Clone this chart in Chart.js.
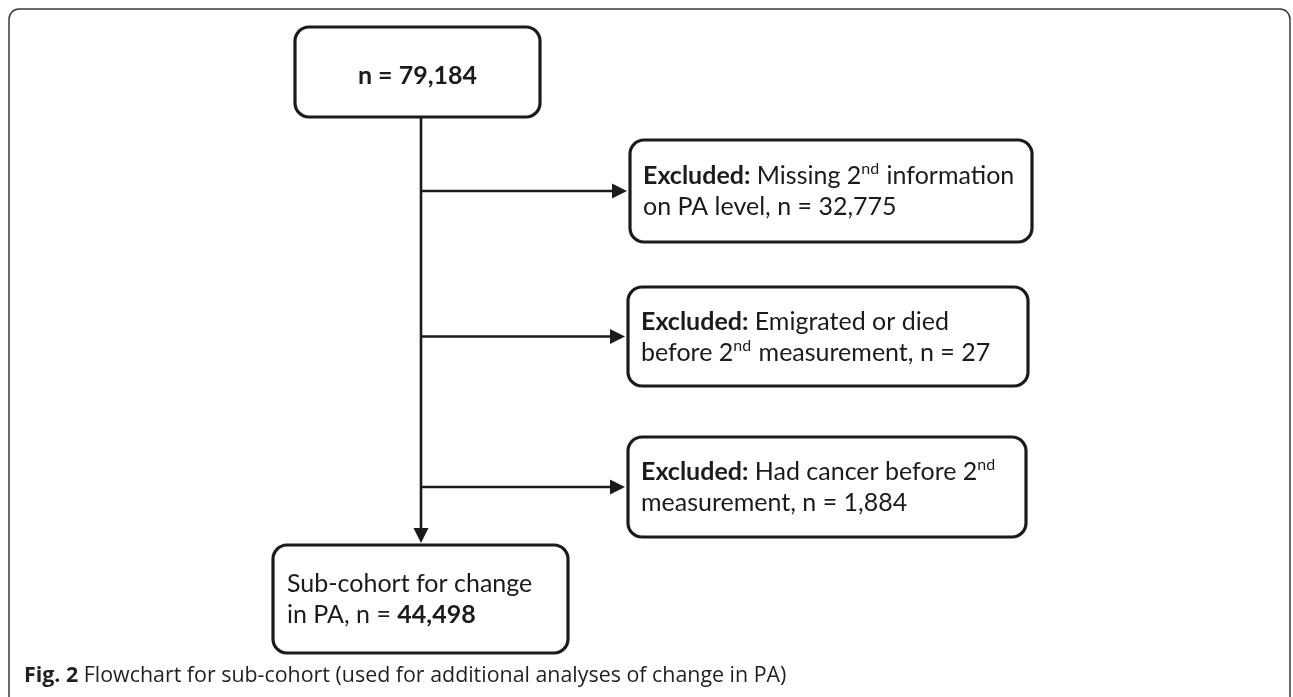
<!DOCTYPE html>
<html>
<head>
<meta charset="utf-8">
<title>Flowchart sub-cohort</title>
<script src="https://cdn.jsdelivr.net/npm/chart.js@4/dist/chart.umd.min.js"></script>
<style>
  html, body { margin: 0; padding: 0; background: #ffffff; }
  #grafico { display: block; }
</style>
</head>
<body>
<canvas id="grafico" width="1293" height="697"></canvas>
<script>
// dados do fluxograma
var startCount = '79,184';
var exclusionTags = ['Excluded:', 'Excluded:', 'Excluded:'];
var exclusionCounts = ['32,775', '27', '1,884'];
var finalCount = '44,498';
var captionLabel = 'Fig. 2';
var captionText = ' Flowchart for sub-cohort (used for additional analyses of change in PA)';

// texto de cada caixa, em pedacos (b = negrito, s = sobrescrito)
var topLines = [[{ t: 'n = ' + startCount, b: true }]];
var exclusionLines = [
  [
    [{ t: exclusionTags[0], b: true }, { t: ' Missing 2' }, { t: 'nd', s: true }, { t: ' information' }],
    [{ t: 'on PA level, n = ' + exclusionCounts[0] }]
  ],
  [
    [{ t: exclusionTags[1], b: true }, { t: ' Emigrated or died' }],
    [{ t: 'before 2' }, { t: 'nd', s: true }, { t: ' measurement, n = ' + exclusionCounts[1] }]
  ],
  [
    [{ t: exclusionTags[2], b: true }, { t: ' Had cancer before 2' }, { t: 'nd', s: true }],
    [{ t: 'measurement, n = ' + exclusionCounts[2] }]
  ]
];
var finalLines = [
  [{ t: 'Sub-cohort for change' }],
  [{ t: 'in PA, n = ' }, { t: finalCount, b: true }]
];

// posicoes das caixas (em unidades da escala, igual a pixels)
var layout = {
  top: { x: 295, y: 27, w: 245, h: 90 },
  excl: [
    { x: 630, y: 140, w: 402, h: 102 },
    { x: 628, y: 287, w: 400, h: 99 },
    { x: 628, y: 437, w: 398, h: 100 }
  ],
  fim: { x: 273, y: 545, w: 295, h: 108 },
  troncoX: 421
};

var INK = '#1b1b1b';
var FONTE = 'Lato, "Open Sans", sans-serif';
var TAM = 25;

function caixa(ctx, x, y, w, h, r) {
  ctx.beginPath();
  ctx.moveTo(x + r, y);
  ctx.lineTo(x + w - r, y);
  ctx.arcTo(x + w, y, x + w, y + r, r);
  ctx.lineTo(x + w, y + h - r);
  ctx.arcTo(x + w, y + h, x + w - r, y + h, r);
  ctx.lineTo(x + r, y + h);
  ctx.arcTo(x, y + h, x, y + h - r, r);
  ctx.lineTo(x, y + r);
  ctx.arcTo(x, y, x + r, y, r);
  ctx.closePath();
  ctx.lineWidth = 3.2;
  ctx.strokeStyle = INK;
  ctx.stroke();
}

function fontePedaco(p) {
  var tam = p.s ? Math.round(TAM * 0.64) : TAM;
  return (p.b ? 'bold ' : '') + tam + 'px ' + FONTE;
}

function larguraLinha(ctx, linha) {
  var w = 0;
  for (var i = 0; i < linha.length; i++) {
    ctx.font = fontePedaco(linha[i]);
    w += ctx.measureText(linha[i].t).width;
  }
  return w;
}

function escreveLinha(ctx, linha, x, base) {
  for (var i = 0; i < linha.length; i++) {
    var p = linha[i];
    ctx.font = fontePedaco(p);
    ctx.fillText(p.t, x, p.s ? base - 10 : base);
    x += ctx.measureText(p.t).width + (p.s ? 1 : 0);
  }
}

function seta(ctx, x1, y1, x2, y2) {
  var ang = Math.atan2(y2 - y1, x2 - x1);
  var L = 15, W = 7.5;
  ctx.beginPath();
  ctx.moveTo(x1, y1);
  ctx.lineTo(x2 - L * Math.cos(ang), y2 - L * Math.sin(ang));
  ctx.lineWidth = 2.6;
  ctx.strokeStyle = INK;
  ctx.stroke();
  ctx.beginPath();
  ctx.moveTo(x2, y2);
  ctx.lineTo(x2 - L * Math.cos(ang) - W * Math.sin(ang), y2 - L * Math.sin(ang) + W * Math.cos(ang));
  ctx.lineTo(x2 - L * Math.cos(ang) + W * Math.sin(ang), y2 - L * Math.sin(ang) - W * Math.cos(ang));
  ctx.closePath();
  ctx.fillStyle = INK;
  ctx.fill();
}

var fluxoPlugin = {
  id: 'fluxo',
  afterDraw: function (chart) {
    var ctx = chart.ctx;
    var sx = chart.scales.x, sy = chart.scales.y;
    function px(v) { return sx.getPixelForValue(v); }
    function py(v) { return sy.getPixelForValue(v); }
    function rect(b) {
      var x = px(b.x), y = py(b.y);
      return { x: x, y: y, w: px(b.x + b.w) - x, h: py(b.y + b.h) - y };
    }
    ctx.save();

    // moldura externa
    ctx.beginPath();
    ctx.moveTo(px(9), py(697));
    ctx.lineTo(px(9), py(19));
    ctx.arcTo(px(9), py(9), px(19), py(9), 10);
    ctx.lineTo(px(1280), py(9));
    ctx.arcTo(px(1290), py(9), px(1290), py(19), 10);
    ctx.lineTo(px(1290), py(697));
    ctx.lineWidth = 1.5;
    ctx.strokeStyle = '#3a3a3a';
    ctx.stroke();

    ctx.textAlign = 'left';
    ctx.textBaseline = 'alphabetic';
    ctx.fillStyle = INK;

    // caixa de cima
    var t = rect(layout.top);
    caixa(ctx, t.x, t.y, t.w, t.h, 14);
    ctx.fillStyle = INK;
    var lw = larguraLinha(ctx, topLines[0]);
    escreveLinha(ctx, topLines[0], t.x + (t.w - lw) / 2, t.y + t.h / 2 + 12);

    // tronco vertical ate a caixa final
    var f = rect(layout.fim);
    var tx = px(layout.troncoX);
    seta(ctx, tx, t.y + t.h + 1, tx, f.y - 2);

    // caixas de exclusao
    for (var i = 0; i < layout.excl.length; i++) {
      var e = rect(layout.excl[i]);
      var cy = e.y + e.h / 2;
      seta(ctx, tx, cy, e.x - 3, cy);
      caixa(ctx, e.x, e.y, e.w, e.h, 14);
      ctx.fillStyle = INK;
      for (var k = 0; k < exclusionLines[i].length; k++) {
        escreveLinha(ctx, exclusionLines[i][k], e.x + 13, cy - 7 + k * 31);
      }
    }

    // caixa final
    caixa(ctx, f.x, f.y, f.w, f.h, 14);
    ctx.fillStyle = INK;
    var fcy = f.y + f.h / 2;
    for (var j = 0; j < finalLines.length; j++) {
      escreveLinha(ctx, finalLines[j], f.x + 14, fcy - 7 + j * 31);
    }

    // legenda da figura
    ctx.fillStyle = '#231f20';
    ctx.font = 'bold 21.4px "Open Sans", sans-serif';
    ctx.fillText(captionLabel, px(24), py(682));
    var cw = ctx.measureText(captionLabel).width;
    ctx.font = '21.4px "Open Sans", sans-serif';
    ctx.fillText(captionText, px(24) + cw, py(682));

    ctx.restore();
  }
};

var ctx = document.getElementById('grafico');
var chartGraph = new Chart(ctx, {
  type: 'scatter',
  data: { datasets: [{ data: [], pointRadius: 0 }] },
  options: {
    responsive: false,
    animation: false,
    devicePixelRatio: 1,
    layout: { padding: 0 },
    plugins: { legend: { display: false }, tooltip: { enabled: false } },
    scales: {
      x: { type: 'linear', min: 0, max: 1293, display: false },
      y: { type: 'linear', min: 0, max: 697, reverse: true, display: false }
    }
  },
  plugins: [fluxoPlugin]
});
</script>
</body>
</html>
